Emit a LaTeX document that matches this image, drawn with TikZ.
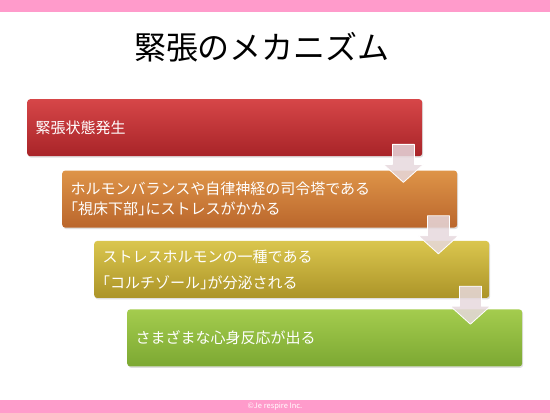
\documentclass[tikz,border=0pt]{standalone}
\usepackage{fontspec}
\setmainfont{Noto Sans CJK JP}
\usepackage{tikz}
\usetikzlibrary{positioning,calc,shadows}
\definecolor{barpink}{RGB}{255, 155, 203}
\definecolor{redtop}{RGB}{214, 70, 72}
\definecolor{redbot}{RGB}{168, 36, 40}
\definecolor{orangetop}{RGB}{222, 148, 72}
\definecolor{orangebot}{RGB}{186, 102, 44}
\definecolor{olivetop}{RGB}{218, 198, 78}
\definecolor{olivebot}{RGB}{172, 148, 40}
\definecolor{greentop}{RGB}{164, 204, 78}
\definecolor{greenbot}{RGB}{124, 168, 50}
\definecolor{arrowgray}{RGB}{230, 216, 221}
\newcommand{\halfbr}[1]{{\addfontfeature{RawFeature=+halt}#1}}
\tikzset{
  stagebox/.style={rounded corners=3pt, minimum width=395pt, minimum height=57pt,
    text width=378pt, inner sep=0pt, align=left, anchor=north west, text=white,
    font=\fontsize{15}{20}\selectfont,
    drop shadow={opacity=0.25, shadow xshift=1pt, shadow yshift=-1.5pt}},
  flowarrow/.style={fill=arrowgray, fill opacity=0.85, draw=white, line width=0.8pt, line join=round}
}

\begin{document}
\begin{tikzpicture}[x=1pt,y=1pt]
    \useasboundingbox (0,0) rectangle (550,413);
    % pink bars
    \fill[barpink] (0,401) rectangle (550,413);
    \fill[barpink] (0,0) rectangle (550,13);
    \node[text=white, font=\fontsize{7.5}{8}\selectfont] (copy) at (275,6.5) {©Je respire Inc.};
    \node[font=\fontsize{32}{38}\selectfont] (title) at (262,366) {緊張のメカニズム};
    % stages
    \node[stagebox, top color=redtop, bottom color=redbot] (b1) at (27,314) {緊張状態発生};
    \node[stagebox, top color=orangetop, bottom color=orangebot] (b2) at ($(b1.south west)+(35,-14)$)
        {ホルモンバランスや自律神経の司令塔である\\\halfbr{「}視床下部\halfbr{」}にストレスがかかる};
    \node[stagebox, top color=olivetop, bottom color=olivebot] (b3) at ($(b2.south west)+(32,-13)$)
        {ストレスホルモンの一種である\\[6pt]\halfbr{「}コルチゾール\halfbr{」}が分泌される};
    \node[stagebox, top color=greentop, bottom color=greenbot] (b4) at ($(b3.south west)+(33,-11)$)
        {さまざまな心身反応が出る};
    % down arrows
    \foreach \a/\b in {b1/b2,b2/b3,b3/b4}{
        \coordinate (\a-\b) at ($(\a.south east)+(-19,12)$);
        \filldraw[flowarrow] (\a-\b) ++(-11,0) -- ++(22,0) -- ++(0,-20) -- ++(9,0)
            -- ++(-20,-18) -- ++(-20,18) -- ++(9,0) -- cycle;
    }
\end{tikzpicture}
\end{document}
